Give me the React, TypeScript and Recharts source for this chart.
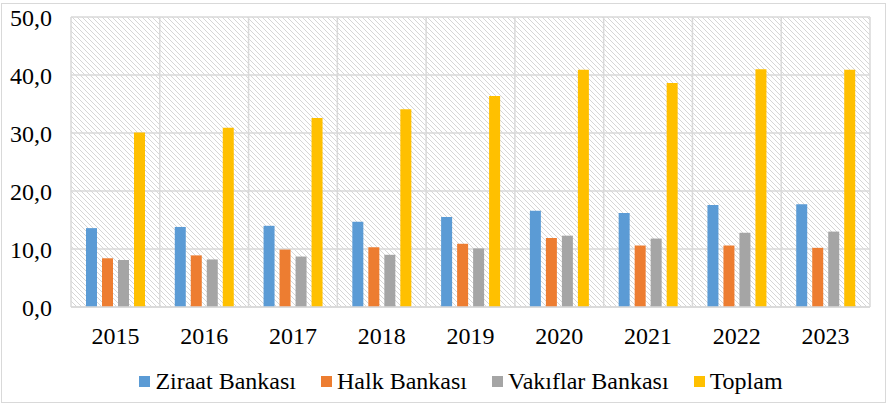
import { Bar, BarChart, CartesianGrid, Legend, XAxis, YAxis } from "recharts";

const years = ["2015", "2016", "2017", "2018", "2019", "2020", "2021", "2022", "2023"];
const ziraat = [13.6, 13.8, 14.0, 14.7, 15.5, 16.6, 16.2, 17.6, 17.7];
const halk = [8.4, 8.9, 9.9, 10.3, 10.9, 11.9, 10.6, 10.6, 10.2];
const vakif = [8.1, 8.2, 8.7, 9.0, 10.1, 12.3, 11.8, 12.8, 13.0];
const toplam = [30.1, 30.9, 32.6, 34.1, 36.4, 40.9, 38.6, 41.0, 40.9];
const yTicks = [0, 10, 20, 30, 40, 50];

const series = [
  { key: "ziraat", name: "Ziraat Bankası", color: "#5b9bd5" },
  { key: "halk", name: "Halk Bankası", color: "#ed7d31" },
  { key: "vakif", name: "Vakıflar Bankası", color: "#a5a5a5" },
  { key: "toplam", name: "Toplam", color: "#ffc000" },
];

const data = years.map((year, i) => ({
  year,
  ziraat: ziraat[i],
  halk: halk[i],
  vakif: vakif[i],
  toplam: toplam[i],
}));

const font = "'Liberation Serif', 'Times New Roman', serif";

function LegendRow() {
  return (
    <div
      style={{
        display: "flex",
        justifyContent: "center",
        alignItems: "center",
        height: 34,
        gap: 25,
        fontFamily: font,
        fontSize: 24,
        color: "#000",
        paddingLeft: 52,
      }}
    >
      {series.map((s) => (
        <div key={s.key} style={{ display: "flex", alignItems: "center", gap: 5 }}>
          <span style={{ width: 11, height: 11, background: s.color, display: "inline-block" }} />
          <span style={{ fontFamily: font }}>{s.name}</span>
        </div>
      ))}
    </div>
  );
}

export default function App() {
  return (
    <div style={{ position: "relative", width: 887, height: 404, background: "#fff" }}>
      <style>{"body{margin:0}"}</style>
      <svg width={0} height={0} style={{ position: "absolute" }}>
        <defs>
          <pattern id="hatch" patternUnits="userSpaceOnUse" width={5} height={5}>
            <rect width={5} height={5} fill="#fff" />
            <path d="M0,0 L5,5 M-1,4 L1,6 M4,-1 L6,1" stroke="#d6d6d6" strokeWidth={1} />
          </pattern>
        </defs>
      </svg>
      <div
        style={{
          position: "absolute",
          left: 1,
          top: 3,
          width: 883,
          height: 398,
          border: "1px solid #d9d9d9",
        }}
      />
      <div style={{ position: "absolute", left: 0, top: 0 }}>
        <BarChart
          width={887}
          height={404}
          data={data}
          margin={{ top: 17, right: 17, left: 0, bottom: 6 }}
          barSize={11}
          barGap={5}
        >
          <CartesianGrid
            fill="url(#hatch)"
            stroke="#d9d9d9"
            strokeWidth={1.5}
            verticalCoordinatesGenerator={({ offset }: any) =>
              years.map((_, i) => offset.left + (offset.width * i) / years.length).concat(offset.left + offset.width)
            }
          />
          <XAxis
            dataKey="year"
            height={57}
            tickLine={false}
            tickSize={0}
            tickMargin={20}
            axisLine={{ stroke: "#d9d9d9", strokeWidth: 1.5 }}
            tick={{ fill: "#000", fontSize: 24, fontFamily: font }}
          />
          <YAxis
            width={71}
            domain={[0, 50]}
            ticks={yTicks}
            axisLine={false}
            tickLine={false}
            tickSize={0}
            tickMargin={19}
            tickFormatter={(v: number) => v.toFixed(1).replace(".", ",")}
            tick={{ fill: "#000", fontSize: 24, fontFamily: font }}
          />
          <Legend verticalAlign="bottom" height={34} content={() => <LegendRow />} />
          {series.map((s) => (
            <Bar key={s.key} dataKey={s.key} name={s.name} fill={s.color} isAnimationActive={false} />
          ))}
        </BarChart>
      </div>
    </div>
  );
}
